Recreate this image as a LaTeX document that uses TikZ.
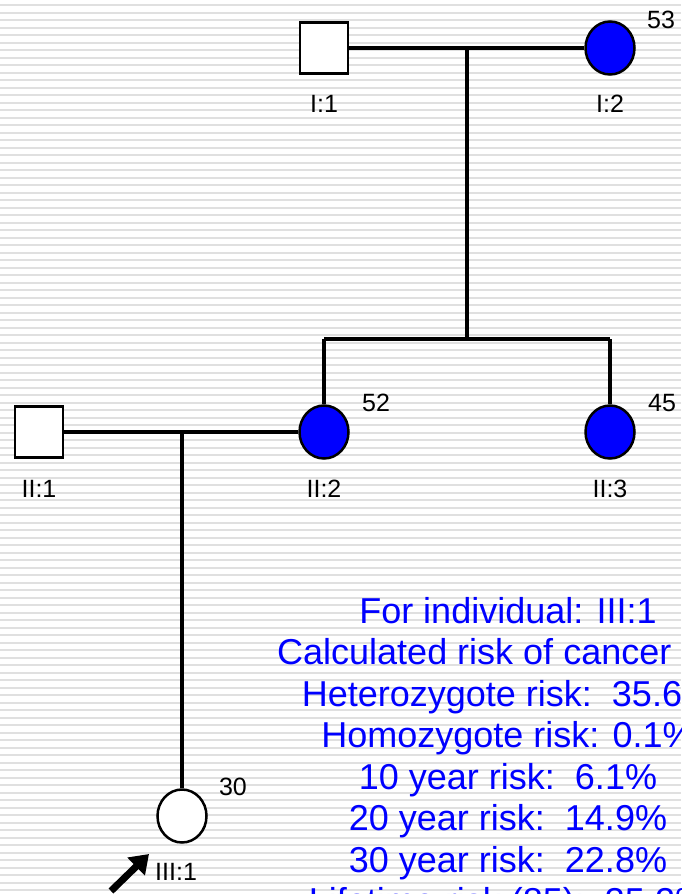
\documentclass[tikz,border=0pt]{standalone}
\usepackage{fontspec}
\setmainfont{Liberation Sans}
\usetikzlibrary{shapes.geometric,arrows.meta}
\definecolor{stripe}{RGB}{224,224,224}
\definecolor{affected}{RGB}{0,0,255}
\tikzset{
    male/.style={draw, line width=2.8pt, rectangle, minimum width=48pt, minimum height=51pt, inner sep=0pt, fill=white},
    female/.style={draw, line width=2.5pt, ellipse, minimum width=49pt, minimum height=53pt, inner sep=0pt, fill=white},
    sick/.style={fill=affected},
    link/.style={line width=4pt},
    tag/.style={font=\fontsize{25}{28}\selectfont, inner sep=0pt},
    risk/.style={font=\fontsize{36}{41}\selectfont, text=affected, inner sep=0pt, anchor=base}
}
\begin{document}
\begin{tikzpicture}[x=1pt,y=-1pt]
    \useasboundingbox (0,0) rectangle (681,894);
    \clip (0,0) rectangle (681,894);
    % lined background
    \foreach \i in {0,...,119}
        \draw[stripe, line width=2pt] (0,5+7.5*\i) -- (681,5+7.5*\i);
    % generation I
    \node[male] (i1) at (324,48) {};
    \node[female, sick] (i2) at (610,48) {};
    \coordinate (m1) at (467,48);
    \coordinate (s1) at (467,339);
    \coordinate (c2) at (324,339);
    \coordinate (c3) at (610,339);
    % generation II
    \node[male] (ii1) at (39,432) {};
    \node[female, sick] (ii2) at (324,432) {};
    \node[female, sick] (ii3) at (610,432) {};
    \coordinate (m2) at (182,432);
    % generation III
    \node[female] (iii1) at (182,816) {};
    \draw[link] (i1) -- (i2);
    \draw[link] (m1) -- (s1);
    \draw[link] (c2) -- (c3);
    \draw[link] (c2) -- (ii2);
    \draw[link] (c3) -- (ii3);
    \draw[link] (ii1) -- (ii2);
    \draw[link] (m2) -- (iii1);
    % ids and ages
    \node[tag] (i1id) at (324,104) {I:1};
    \node[tag] (i2id) at (610,104) {I:2};
    \node[tag] (i2age) at (661,20) {53};
    \node[tag] (ii1id) at (39,489) {II:1};
    \node[tag] (ii2id) at (324,489) {II:2};
    \node[tag] (ii3id) at (610,489) {II:3};
    \node[tag] (ii2age) at (376,403) {52};
    \node[tag] (ii3age) at (662,403) {45};
    \node[tag] (iii1age) at (233,787) {30};
    \node[tag, anchor=west] (iii1id) at (155,872) {III:1};
    % proband
    \coordinate (ptail) at (111,891);
    \coordinate (ptip) at (149,854);
    \draw[line width=7pt, -{Triangle[length=18pt,width=24pt]}] (ptail) -- (ptip);
    % risk summary
    \foreach \y/\txt [count=\n] in {623/For individual: III:1,
            706/Heterozygote risk:\ \ 35.6\%,
            747.5/Homozygote risk: 0.1\%,
            789/10 year risk:\ \ 6.1\%,
            830.5/20 year risk:\ \ 14.9\%,
            872/30 year risk:\ \ 22.8\%,
            913.5/Lifetime risk (85):\ \ 35.2\%}
        \node[risk] (r\n) at (508,\y) {\txt};
    \node[risk, anchor=base west] (rhead) at (277,664.5) {Calculated risk of cancer};
\end{tikzpicture}
\end{document}
